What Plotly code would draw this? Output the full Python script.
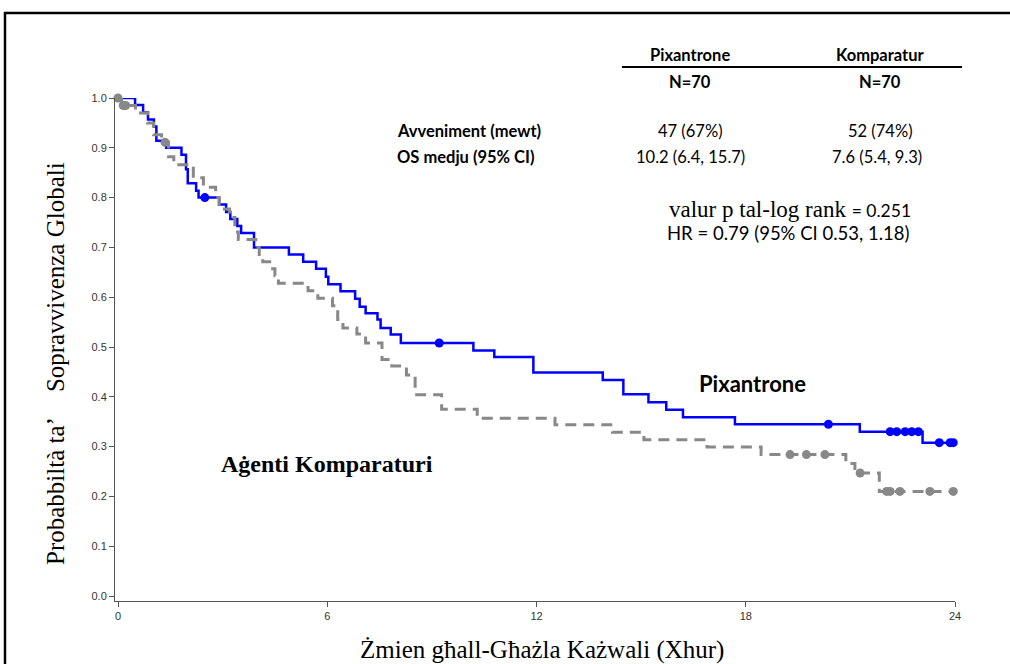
import plotly.graph_objects as go

# ---------------- data ----------------
# Pixantrone Kaplan-Meier steps (time in months, survival probability)
pix_t = [0, 0.49, 0.72, 0.86, 1.03, 1.10, 1.38, 1.82, 1.95, 2.00, 2.24, 2.31, 2.90, 3.10,
         3.22, 3.42, 3.53, 3.90, 4.90, 5.31, 5.68, 5.96, 6.03, 6.38, 6.80, 6.93, 7.10, 7.44,
         7.53, 7.82, 8.11, 10.19, 10.79, 11.91, 13.90, 14.49, 15.21, 15.72, 16.20, 17.69,
         21.27, 23.07, 23.95]
pix_s = [1.0, 0.986, 0.971, 0.957, 0.943, 0.914, 0.900, 0.886, 0.857, 0.829, 0.814, 0.800,
         0.786, 0.771, 0.757, 0.743, 0.729, 0.700, 0.686, 0.671, 0.657, 0.641, 0.626, 0.612,
         0.597, 0.581, 0.568, 0.555, 0.538, 0.525, 0.508, 0.493, 0.480, 0.449, 0.434, 0.405,
         0.389, 0.374, 0.359, 0.345, 0.330, 0.308, 0.308]
pix_cens_t = [2.49, 9.21, 20.37, 22.14, 22.33, 22.57, 22.76, 22.95, 23.55, 23.86, 23.95]
pix_cens_s = [0.800, 0.508, 0.345, 0.330, 0.330, 0.330, 0.330, 0.330, 0.308, 0.308, 0.308]

# Comparator Kaplan-Meier steps
kom_t = [0, 0.10, 0.50, 0.85, 1.02, 1.25, 1.45, 1.60, 2.16, 2.45, 2.80, 2.90, 3.20, 3.35,
         3.45, 3.95, 4.05, 4.15, 4.35, 4.50, 4.60, 5.45, 5.73, 6.15, 6.30, 6.45, 6.85, 7.10,
         7.57, 7.85, 8.27, 8.52, 9.28, 10.30, 12.53, 14.18, 15.08, 16.89, 18.44, 20.87,
         21.13, 21.83, 23.95]
kom_s = [1.0, 0.985, 0.970, 0.950, 0.926, 0.911, 0.882, 0.866, 0.840, 0.821, 0.800, 0.777,
         0.760, 0.731, 0.716, 0.700, 0.686, 0.671, 0.657, 0.643, 0.628, 0.613, 0.598, 0.583,
         0.555, 0.538, 0.526, 0.508, 0.475, 0.462, 0.444, 0.404, 0.375, 0.357, 0.344, 0.329,
         0.314, 0.299, 0.284, 0.266, 0.247, 0.210, 0.210]
kom_cens_t = [0.0, 0.15, 0.22, 1.35, 19.27, 19.74, 20.27, 21.28, 22.04, 22.14, 22.42, 23.28, 23.95]
kom_cens_s = [1.0, 0.985, 0.985, 0.911, 0.284, 0.284, 0.284, 0.247, 0.210, 0.210, 0.210, 0.210, 0.210]

x_ticks = [0, 6, 12, 18, 24]
y_ticks = [0.0, 0.1, 0.2, 0.3, 0.4, 0.5, 0.6, 0.7, 0.8, 0.9, 1.0]

groups = ["Pixantrone", "Komparatur"]
n_pat = ["N=70", "N=70"]
row_labels = ["Avveniment (mewt)", "OS medju (95% CI)"]
events = ["47 (67%)", "52 (74%)"]
median_os = ["10.2 (6.4, 15.7)", "7.6 (5.4, 9.3)"]
pval_text = "valur p tal-log rank"
pval = "= 0.251"
hr_text = "HR = 0.79 (95% CI 0.53, 1.18)"
y_title = "Probabbiltà ta’\u00a0\u00a0\u00a0\u00a0Sopravvivenza Globali"
x_title = "Żmien għall-Għażla Każwali (Xhur)"

BLUE = "#0000ff"
GREY = "#888888"
SANS = "Lato, 'Open Sans', sans-serif"
SERIF = "'Liberation Serif', 'Times New Roman', serif"

# ---------------- layout geometry (pixels) ----------------
W, H = 1010, 664
ML, MR, MT, MB = 115, 55, 98, 63
PW, PH = W - ML - MR, H - MT - MB


def px(x):
    return (x - ML) / PW


def py(y):
    return (H - MB - y) / PH


fig = go.Figure()
fig.add_trace(go.Scatter(x=pix_t, y=pix_s, mode="lines", line=dict(shape="hv", color=BLUE, width=2.5),
                         name="Pixantrone", cliponaxis=False))
fig.add_trace(go.Scatter(x=kom_t, y=kom_s, mode="lines",
                         line=dict(shape="hv", color=GREY, width=3, dash="11px,7px"),
                         name="Komparatur", cliponaxis=False))
fig.add_trace(go.Scatter(x=pix_cens_t, y=pix_cens_s, mode="markers",
                         marker=dict(color=BLUE, size=9), cliponaxis=False, showlegend=False))
fig.add_trace(go.Scatter(x=kom_cens_t, y=kom_cens_s, mode="markers",
                         marker=dict(color=GREY, size=9), cliponaxis=False, showlegend=False))

TF = 16.5
ann = []
hdr_x = [690, 880]
for i in range(2):
    ann.append(dict(x=px(hdr_x[i]), y=py(55), text="<b>%s</b>" % groups[i],
                    font=dict(family=SANS, size=TF, color="black")))
    ann.append(dict(x=px(hdr_x[i]), y=py(82), text="<b>%s</b>" % n_pat[i],
                    font=dict(family=SANS, size=TF, color="black")))
    ann.append(dict(x=px(hdr_x[i]), y=py(131), text=events[i],
                    font=dict(family=SANS, size=TF, color="black")))
    ann.append(dict(x=px(hdr_x[i] - 3 * i), y=py(157), text=median_os[i],
                    font=dict(family=SANS, size=TF, color="black")))
for j, lab in enumerate(row_labels):
    ann.append(dict(x=px(395), y=py(131 + 26 * j), text="<b>%s</b>" % lab, xanchor="left",
                    font=dict(family=SANS, size=TF, color="black")))
ann.append(dict(x=px(790), y=py(209),
                text="%s <span style=\"font-family:Lato, sans-serif; font-size:17.5px\">%s</span>" % (pval_text, pval),
                font=dict(family=SERIF, size=23, color="black")))
ann.append(dict(x=px(788), y=py(233), text=hr_text, font=dict(family=SANS, size=18.5, color="black")))
ann.append(dict(x=px(752), y=py(383), text="<b>Pixantrone</b>", font=dict(family=SANS, size=22, color="black")))
ann.append(dict(x=px(327), y=py(464), text="<b>Aġenti Komparaturi</b>", font=dict(family=SERIF, size=24, color="black")))
# axis titles
ann.append(dict(x=px(542), y=py(650), text=x_title, font=dict(family=SERIF, size=25, color="black")))
ann.append(dict(x=px(55), y=py(364), text=y_title, textangle=-90, font=dict(family=SERIF, size=25, color="black")))
for a in ann:
    a.update(xref="paper", yref="paper", showarrow=False)
    a.setdefault("xanchor", "center")
    a.setdefault("yanchor", "middle")

shapes = [
    # table header rule
    dict(type="line", xref="paper", yref="paper", x0=px(622), x1=px(962), y0=py(67), y1=py(67),
         line=dict(color="black", width=2)),
    # outer frame (left and top edges; the rest lies outside the picture)
    dict(type="line", xref="paper", yref="paper", x0=px(5), x1=px(5), y0=py(12), y1=py(700),
         line=dict(color="black", width=2.5)),
    dict(type="line", xref="paper", yref="paper", x0=px(4), x1=px(1040), y0=py(13), y1=py(13),
         line=dict(color="black", width=2.5)),
]

axis_common = dict(showgrid=False, zeroline=False, showline=True, linecolor="#555555", linewidth=1,
                   ticks="outside", ticklen=5, tickcolor="#555555", tickwidth=1, automargin=False)

fig.update_layout(
    width=W, height=H,
    margin=dict(l=ML, r=MR, t=MT, b=MB),
    paper_bgcolor="white", plot_bgcolor="white",
    showlegend=False,
    annotations=ann,
    shapes=shapes,
    xaxis=dict(range=[-3 / 34.875, 24], tickvals=x_ticks, ticktext=[str(v) for v in x_ticks],
               tickfont=dict(family="'Liberation Sans Narrow', 'Arial Narrow', 'Liberation Sans', Arial",
                             size=11, color="#333333"),
               **axis_common),
    yaxis=dict(range=[-0.01, 1.0], tickvals=y_ticks, ticktext=["%.1f" % v for v in y_ticks],
               tickfont=dict(family="'Liberation Sans', Arial", size=11, color="#333333"),
               **axis_common),
)

fig.write_html("out.html", config={"displayModeBar": False}, post_script=(
    "document.body.style.margin='0';document.body.style.padding='0';"
    "document.body.style.overflow='hidden';"))
